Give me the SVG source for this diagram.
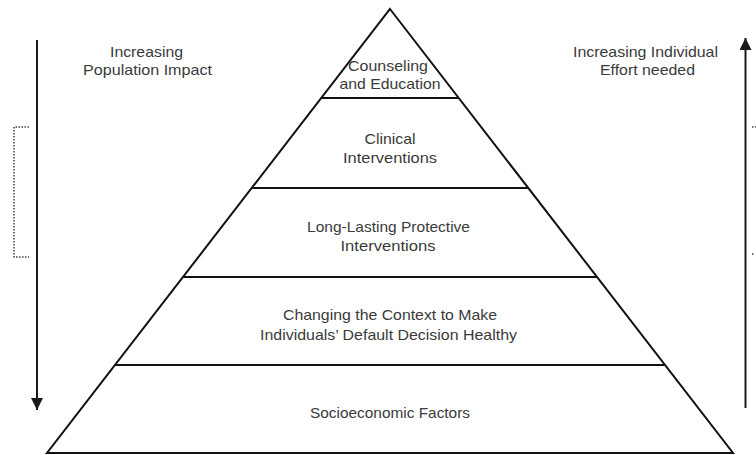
<svg xmlns="http://www.w3.org/2000/svg" width="756" height="455" viewBox="0 0 756 455">
<defs>
<style>
.t{font-family:"Liberation Sans",Arial,sans-serif;font-size:15px;fill:#3a3a3a;text-anchor:middle}
.ln{stroke:#111;stroke-width:2;fill:none}
.ar{stroke:#1a1a1a;stroke-width:2;fill:none}
.dot{stroke:#444;stroke-width:1.5;fill:none;stroke-dasharray:1.5 1.5}
</style>
<marker id="ah" viewBox="0 0 12 12" refX="12" refY="6" markerWidth="12" markerHeight="12" markerUnits="userSpaceOnUse" orient="auto">
<path d="M0,0 L12,6 L0,12 Z" fill="#1a1a1a"/>
</marker>
</defs>
<rect width="756" height="455" fill="#fff"/>
<g id="connectors">
<line class="ar" x1="37" y1="40" x2="37" y2="410" marker-end="url(#ah)"/>
<line class="ar" x1="745.5" y1="408" x2="745.5" y2="38" marker-end="url(#ah)"/>
<path class="dot" d="M29,127 H14 V257 H29"/>
<line class="dot" x1="752" y1="127" x2="756" y2="127"/>
<line class="dot" x1="752" y1="254" x2="755" y2="254"/>
</g>
<g id="pyramid">
<path class="ln" d="M390,9 L733,453 L47,453 Z" stroke-linejoin="miter"/>
</g>
<g id="level-counseling">
<line class="ln" x1="321" y1="98" x2="459" y2="98"/>
<text class="t" x="388" y="71" textLength="80" lengthAdjust="spacingAndGlyphs">Counseling</text>
<text class="t" x="390" y="89" textLength="101" lengthAdjust="spacingAndGlyphs">and Education</text>
</g>
<g id="level-clinical">
<line class="ln" x1="252" y1="188" x2="528" y2="188"/>
<text class="t" x="390" y="144" textLength="51" lengthAdjust="spacingAndGlyphs">Clinical</text>
<text class="t" x="390" y="163" textLength="94" lengthAdjust="spacingAndGlyphs">Interventions</text>
</g>
<g id="level-protective">
<line class="ln" x1="183" y1="277" x2="597" y2="277"/>
<text class="t" x="388.5" y="232" textLength="163" lengthAdjust="spacingAndGlyphs">Long-Lasting Protective</text>
<text class="t" x="388" y="251" textLength="95" lengthAdjust="spacingAndGlyphs">Interventions</text>
</g>
<g id="level-context">
<line class="ln" x1="115" y1="365" x2="665" y2="365"/>
<text class="t" x="390" y="320" textLength="214" lengthAdjust="spacingAndGlyphs">Changing the Context to Make</text>
<text class="t" x="388.5" y="340" textLength="257" lengthAdjust="spacingAndGlyphs">Individuals’ Default Decision Healthy</text>
</g>
<g id="level-socioeconomic">
<text class="t" x="390" y="418" textLength="160" lengthAdjust="spacingAndGlyphs">Socioeconomic Factors</text>
</g>
<g id="label-population">
<text class="t" x="146.5" y="57" textLength="73" lengthAdjust="spacingAndGlyphs">Increasing</text>
<text class="t" x="147.5" y="75" textLength="129" lengthAdjust="spacingAndGlyphs">Population Impact</text>
</g>
<g id="label-effort">
<text class="t" x="645.5" y="57" textLength="145" lengthAdjust="spacingAndGlyphs">Increasing Individual</text>
<text class="t" x="647.5" y="75" textLength="95" lengthAdjust="spacingAndGlyphs">Effort needed</text>
</g>
</svg>
